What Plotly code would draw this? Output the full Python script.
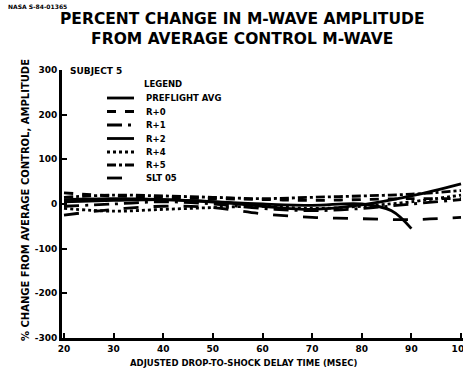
import plotly.graph_objects as go

delay_msec = [20, 30, 40, 50, 60, 70, 80, 90, 100]
series_names = ["PREFLIGHT AVG", "R+0", "R+1", "R+2", "R+4", "R+5", "SLT 05"]
preflight = [5, 8, 10, 5, -5, -12, -2, 18, 45]
r0 = [25, 18, 15, 12, 10, 8, 10, 12, 12]
r1 = [-5, 0, 5, 0, -10, -15, -10, 0, 10]
r2_x = [20, 30, 40, 50, 60, 70, 80, 86, 90]
r2 = [10, 12, 10, 5, 0, -3, 0, -15, -55]
r4 = [-10, -16, -12, -8, -5, -10, -5, 5, 20]
r5 = [15, 20, 18, 15, 12, 15, 18, 22, 30]
slt = [-25, -12, -5, -8, -22, -30, -33, -35, -30]

y_ticks = [300, 200, 100, 0, -100, -200, -300]
x_ticks = [20, 30, 40, 50, 60, 70, 80, 90, 100]

series = [
    ("PREFLIGHT AVG", delay_msec, preflight, "solid"),
    ("R+0", delay_msec, r0, "dash"),
    ("R+1", delay_msec, r1, "longdashdot"),
    ("R+2", r2_x, r2, "solid"),
    ("R+4", delay_msec, r4, "dot"),
    ("R+5", delay_msec, r5, "dashdot"),
    ("SLT 05", delay_msec, slt, "longdash"),
]

W, H = 463, 370
ML, MR, MT, MB = 62, 0, 70, 32
PW, PH = W - ML - MR, H - MT - MB


def px(x):
    return (x - ML) / PW


def py(y):
    return (H - MB - y) / PH


fig = go.Figure()
for name, xs, ys, dash in series:
    fig.add_trace(go.Scatter(
        x=xs, y=ys, name=name, mode="lines", showlegend=False,
        line=dict(color="black", width=2.8, dash=dash, shape="spline", smoothing=1.0),
    ))

font_b = "DejaVu Sans"
annotations = [
    dict(text="<b>PERCENT CHANGE IN M-WAVE AMPLITUDE<br>FROM AVERAGE CONTROL M-WAVE</b>",
         xref="paper", yref="paper", x=px(242), y=py(8), xanchor="center", yanchor="top",
         showarrow=False, font=dict(family=font_b, size=15.5, color="black")),
    dict(text="<b>NASA S-84-01365</b>", xref="paper", yref="paper", x=px(6), y=py(1),
         xanchor="left", yanchor="top", showarrow=False,
         font=dict(family=font_b, size=6, color="black")),
    dict(text="<b>SUBJECT 5</b>", xref="paper", yref="paper", x=px(68), y=py(71),
         xanchor="left", yanchor="middle", showarrow=False,
         font=dict(family=font_b, size=9, color="black")),
    dict(text="<b>ADJUSTED DROP-TO-SHOCK DELAY TIME (MSEC)</b>", xref="paper", yref="paper",
         x=px(243), y=py(363), xanchor="center", yanchor="middle", showarrow=False,
         font=dict(family=font_b, size=8.5, color="black")),
    dict(text="<b>% CHANGE FROM AVERAGE CONTROL, AMPLITUDE</b>", xref="paper", yref="paper",
         x=px(25), y=py(200), xanchor="center", yanchor="middle", textangle=-90, showarrow=False,
         font=dict(family=font_b, size=10, color="black")),
    dict(text="<b>LEGEND</b>", xref="paper", yref="paper", x=px(163), y=py(84),
         xanchor="center", yanchor="middle", showarrow=False,
         font=dict(family=font_b, size=8.5, color="black")),
]
shapes = []
legend_rows = [98, 111.5, 125, 138.5, 152, 165, 178]
for (name, xs, ys, dash), ry in zip(series, legend_rows):
    shapes.append(dict(type="line", xref="paper", yref="paper",
                       x0=px(107), x1=px(134), y0=py(ry), y1=py(ry),
                       line=dict(color="black", width=2.8, dash=dash)))
    annotations.append(dict(text=f"<b>{name}</b>", xref="paper", yref="paper",
                            x=px(144), y=py(ry), xanchor="left", yanchor="middle",
                            showarrow=False, font=dict(family=font_b, size=8.5, color="black")))

fig.update_layout(
    width=W, height=H,
    margin=dict(l=ML, r=MR, t=MT, b=MB, autoexpand=False),
    paper_bgcolor="white", plot_bgcolor="white",
    showlegend=False,
    xaxis=dict(
        range=[19.6, 100.4], tickvals=x_ticks, ticktext=[f"<b>{v}</b>" for v in x_ticks],
        showline=True, linecolor="black", linewidth=3, showgrid=False, zeroline=False,
        ticks="inside", ticklen=5, tickwidth=2, tickcolor="black",
        ticklabeloverflow="allow", automargin=False,
        tickfont=dict(family=font_b, size=9, color="black"),
    ),
    yaxis=dict(
        range=[-300, 300], tickvals=y_ticks, ticktext=[f"<b>{v}</b>" for v in y_ticks],
        showline=True, linecolor="black", linewidth=3, showgrid=False, zeroline=False,
        ticks="inside", ticklen=5, tickwidth=2, tickcolor="black", automargin=False,
        tickfont=dict(family=font_b, size=9, color="black"),
    ),
    annotations=annotations,
    shapes=shapes,
)
fig.write_html("out.html")
